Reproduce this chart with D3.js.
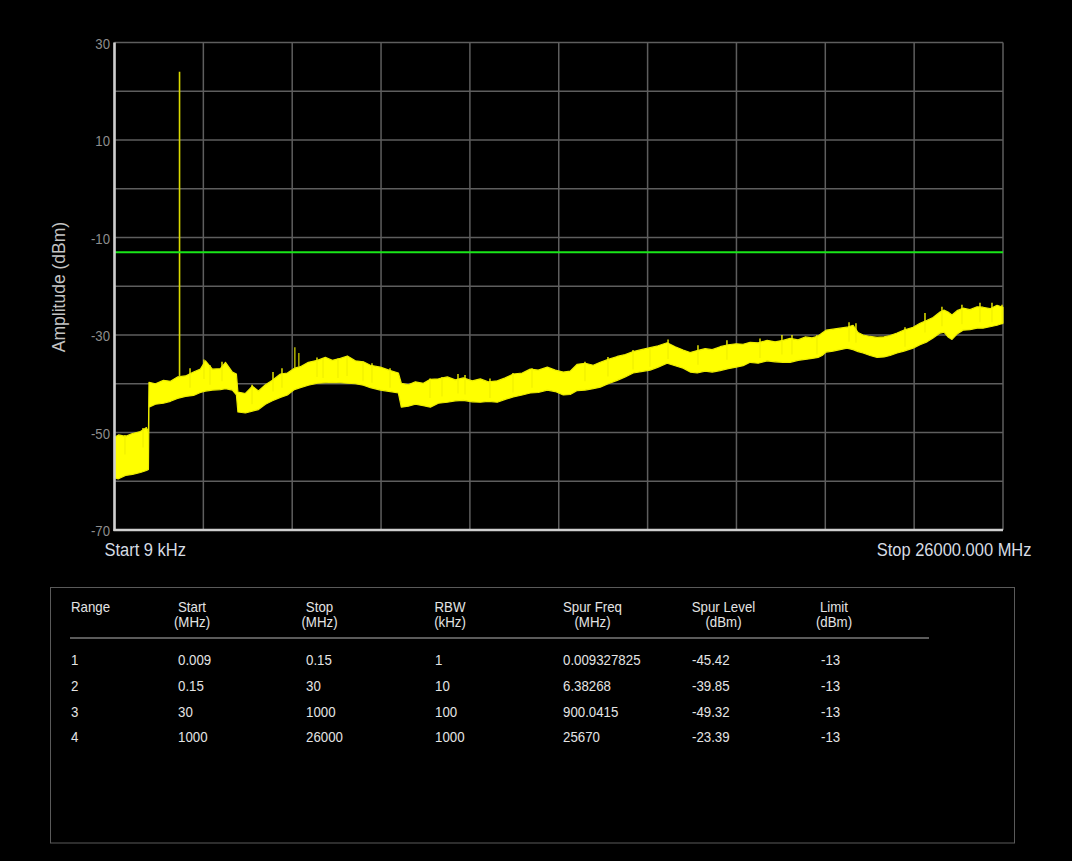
<!DOCTYPE html>
<html><head><meta charset="utf-8">
<script src="https://cdn.jsdelivr.net/npm/d3@7/dist/d3.min.js"></script>
<style>html,body{margin:0;padding:0;background:#000;overflow:hidden}</style>
</head><body>
<script>
// ---------- data ----------
const yTicks = [30, 10, -10, -30, -50, -70];
const yGrid = [30, 20, 10, 0, -10, -20, -30, -40, -50, -60, -70];
const xGridPct = [0, 10, 20, 30, 40, 50, 60, 70, 80, 90, 100];
const limitDbm = -13;
const startLabel = "Start 9 kHz";
const stopLabel = "Stop 26000.000 MHz";
const yTitle = "Amplitude (dBm)";

// sweep position (% of span) with upper / lower envelope of the noisy trace (dBm)
const sweepPct = [0,0.45,1.24,2.02,2.92,3.6,3.82,3.88,4.61,5.51,6.3,7.09,7.99,8.89,9.67,10.24,11.02,11.92,12.49,13.27,13.72,13.89,14.73,15.52,16.2,16.99,17.77,18.67,19.46,20.25,20.92,21.82,22.83,23.73,24.52,25.42,26.21,27.11,28.01,28.8,29.92,31.05,31.95,32.28,33.07,33.86,34.76,35.55,36.45,37.46,38.36,39.26,40.27,41.17,42.07,43.08,43.98,44.88,45.89,46.79,47.69,48.71,49.61,50.51,51.29,52.08,52.98,53.88,54.67,55.57,56.58,57.48,58.38,59.28,60.29,61.19,62.2,63.1,64.0,64.79,65.58,66.48,67.27,68.17,69.07,69.97,70.75,71.54,72.44,73.45,74.35,75.25,76.04,76.94,77.73,78.52,79.19,79.64,80.09,80.88,81.66,82.45,83.13,83.69,84.25,85.04,85.83,86.61,87.29,88.08,88.86,89.88,90.66,91.45,92.13,92.91,93.36,93.81,94.26,94.83,95.5,96.29,97.08,97.75,98.54,99.33,100];
const upperDbm = [-51.0,-50.5,-50.8,-50.2,-49.8,-49.0,-50.0,-39.7,-40.0,-39.3,-39.5,-38.6,-38.4,-37.6,-37.0,-35.3,-37.0,-36.9,-35.6,-37.6,-38.0,-41.7,-42.0,-40.5,-41.5,-40.2,-39.3,-38.0,-37.8,-36.8,-36.5,-35.6,-35.2,-34.6,-35.2,-34.8,-34.3,-35.3,-35.5,-36.2,-36.6,-37.3,-37.8,-39.9,-40.2,-39.6,-39.9,-39.1,-39.0,-38.6,-39.2,-38.8,-39.4,-39.0,-39.6,-39.4,-38.8,-38.0,-37.8,-37.0,-37.2,-36.6,-37.2,-37.6,-37.4,-36.0,-35.8,-36.2,-35.6,-35.0,-34.4,-34.0,-33.4,-33.0,-32.6,-32.2,-31.6,-32.4,-33.1,-33.6,-33.2,-32.8,-33.0,-32.4,-32.0,-31.8,-31.9,-31.5,-31.6,-31.1,-31.4,-31.1,-30.7,-31.0,-30.4,-30.6,-30.2,-29.6,-29.0,-28.8,-28.6,-28.4,-28.0,-29.5,-30.0,-30.3,-30.5,-30.4,-30.1,-29.6,-29.0,-28.4,-27.6,-27.0,-26.4,-25.3,-24.9,-25.3,-25.9,-25.0,-24.5,-24.8,-24.2,-24.3,-24.6,-23.9,-24.3];
const lowerDbm = [-59.3,-59.5,-58.8,-58.6,-58.2,-57.8,-57.6,-44.8,-44.2,-44.0,-43.6,-43.0,-42.6,-42.4,-41.8,-41.5,-41.3,-41.2,-41.0,-41.3,-42.3,-45.8,-46.0,-45.6,-45.3,-44.2,-43.5,-42.8,-42.3,-41.2,-40.8,-40.3,-39.9,-39.8,-39.7,-39.8,-39.9,-40.0,-40.3,-40.8,-41.3,-41.6,-41.9,-44.8,-44.6,-44.2,-44.5,-44.8,-44.0,-43.8,-43.5,-43.4,-43.7,-43.8,-43.6,-43.8,-43.2,-42.7,-42.3,-41.9,-41.8,-41.3,-41.6,-42.3,-42.2,-41.4,-41.3,-41.0,-40.7,-40.0,-39.3,-38.6,-37.8,-37.5,-37.2,-36.6,-35.8,-36.3,-36.8,-37.6,-37.8,-37.4,-37.6,-37.3,-36.9,-36.6,-36.3,-35.6,-35.8,-35.3,-35.5,-35.6,-35.6,-35.2,-35.0,-34.8,-34.6,-34.2,-33.5,-33.3,-33.0,-32.7,-33.0,-33.4,-33.7,-34.2,-34.6,-34.5,-34.2,-33.7,-33.3,-32.7,-32.0,-31.4,-30.6,-29.6,-29.4,-30.4,-30.9,-29.8,-29.0,-28.9,-28.6,-28.6,-28.3,-28.0,-27.6];

// noise peaks poking above the band (sweep %, dBm)
const peakPct = [1.18,3.21,8.50,10.07,10.75,12.10,15.48,17.84,18.85,22.79,23.47,25.15,26.17,27.97,28.98,31.01,35.51,36.86,38.66,39.45,42.26,44.85,46.99,52.95,55.54,58.36,60.27,62.3,65.67,68.93,72.65,75.12,76.25,79.06,82.67,83.45,88.97,91.22,93.13,95.38,97.41,98.76,99.89];
const peakDbm = [-50.5,-49.1,-36.8,-35.0,-36.2,-35.5,-40.2,-37.6,-36.8,-34.6,-34.8,-34.8,-34.4,-35.5,-35.8,-36.8,-38.9,-38.6,-38.0,-38.2,-38.9,-37.8,-36.8,-35.5,-34.5,-33.1,-32.5,-30.9,-32.1,-31.1,-30.7,-30.0,-30.0,-30.0,-27.4,-27.6,-28.4,-25.5,-24.2,-23.8,-23.4,-23.4,-23.8];

// narrow spurs rising above the noise
const spikePct = [7.32, 20.3, 20.75];
const spikeBase = [-38.6, -36.8, -36.5];
const spikeTop = [24.0, -32.5, -33.7];

// table
const headLine1 = ["Range", "Start", "Stop", "RBW", "Spur Freq", "Spur Level", "Limit"];
const headLine2 = ["", "(MHz)", "(MHz)", "(kHz)", "(MHz)", "(dBm)", "(dBm)"];
const rangeIds = ["1", "2", "3", "4"];
const startMHz = ["0.009", "0.15", "30", "1000"];
const stopMHz = ["0.15", "30", "1000", "26000"];
const rbwKHz = ["1", "10", "100", "1000"];
const spurFreq = ["0.009327825", "6.38268", "900.0415", "25670"];
const spurLevel = ["-45.42", "-39.85", "-49.32", "-23.39"];
const limitCol = ["-13", "-13", "-13", "-13"];

// ---------- drawing ----------
const W = 1072, H = 861;
const svg = d3.select("body").append("svg").attr("width", W).attr("height", H)
  .style("display", "block").style("background", "#000");
const FONT = "'Liberation Sans', Arial, sans-serif";

function condense(sel, f) {
  sel.each(function () {
    const l = this.getComputedTextLength();
    d3.select(this).attr("textLength", l * f).attr("lengthAdjust", "spacingAndGlyphs");
  });
}

const L = 114.5, R = 1003, T = 42.5, B = 530;
const x = d3.scaleLinear().domain([0, 100]).range([L, R]);
const y = d3.scaleLinear().domain([-70, 30]).range([B, T]);

// grid
const g = svg.append("g");
g.selectAll("line.h").data(yGrid).join("line")
  .attr("x1", L).attr("x2", R).attr("y1", d => y(d)).attr("y2", d => y(d))
  .attr("stroke", "#5e5e5e").attr("stroke-width", 1.5);
g.selectAll("line.v").data(xGridPct).join("line")
  .attr("x1", d => x(d)).attr("x2", d => x(d)).attr("y1", T).attr("y2", B)
  .attr("stroke", "#5e5e5e").attr("stroke-width", 1.5);

// y axis with tick labels
const yAxis = d3.axisLeft(y).tickValues(yTicks).tickSize(0).tickPadding(4).tickFormat(d => String(d));
const ya = svg.append("g").attr("transform", `translate(${L - 0.5},0)`).call(yAxis);
ya.select(".domain").remove();
ya.selectAll("text").attr("fill", "#8e8e8e").attr("font-family", FONT).attr("font-size", 15.5)
  .attr("dy", "0.36em").call(condense, 0.85);

// trace band
const pts = sweepPct.map((p, i) => ({ p, hi: upperDbm[i], lo: lowerDbm[i] }));
const area = d3.area().x(d => x(d.p)).y0(d => y(d.lo)).y1(d => y(d.hi));
svg.append("path").datum(pts).attr("d", area)
  .attr("fill", "#ffff00").attr("stroke", "#eded00").attr("stroke-width", 1.2)
  .attr("stroke-linejoin", "round");

// noise peaks
svg.selectAll("line.peak").data(peakPct).join("line")
  .attr("x1", d => x(d)).attr("x2", d => x(d))
  .attr("y1", (d, i) => y(peakDbm[i])).attr("y2", (d, i) => y(peakDbm[i] - 4))
  .attr("stroke", "#f2f200").attr("stroke-width", 1.4);

// spurs
svg.selectAll("line.spike").data(spikePct).join("line")
  .attr("x1", d => x(d)).attr("x2", d => x(d))
  .attr("y1", (d, i) => y(spikeBase[i])).attr("y2", (d, i) => y(spikeTop[i]))
  .attr("stroke", "#dada00").attr("stroke-width", (d, i) => i === 0 ? 1.6 : 1.2);

// limit line
svg.append("line").attr("x1", L).attr("x2", R).attr("y1", y(limitDbm)).attr("y2", y(limitDbm))
  .attr("stroke", "#19e619").attr("stroke-width", 2);

// axis frame (left & bottom)
svg.append("line").attr("x1", L).attr("x2", L).attr("y1", T).attr("y2", B + 1)
  .attr("stroke", "#cfcfcf").attr("stroke-width", 2.6);
svg.append("line").attr("x1", L - 1).attr("x2", R).attr("y1", B).attr("y2", B)
  .attr("stroke", "#cfcfcf").attr("stroke-width", 2.4);

// start / stop labels
svg.append("text").attr("x", 104.5).attr("y", 556).text(startLabel)
  .attr("fill", "#d6dce4").attr("font-family", FONT).attr("font-size", 18).call(condense, 0.915);
svg.append("text").attr("x", 1031.5).attr("y", 556).attr("text-anchor", "end").text(stopLabel)
  .attr("fill", "#d6dce4").attr("font-family", FONT).attr("font-size", 18).call(condense, 0.915);

// y title
svg.append("text").attr("transform", "translate(64.5,287) rotate(-90)")
  .attr("text-anchor", "middle").text(yTitle)
  .attr("fill", "#c4c4c4").attr("font-family", FONT).attr("font-size", 17.5);

// ---------- table ----------
svg.append("rect").attr("x", 50.5).attr("y", 587.5).attr("width", 964).attr("height", 255.5)
  .attr("fill", "none").attr("stroke", "#5a5a5a").attr("stroke-width", 1);
svg.append("line").attr("x1", 70).attr("x2", 929).attr("y1", 638).attr("y2", 638)
  .attr("stroke", "#7a7a7a").attr("stroke-width", 1.5);

const colLeft = [71, 178, 306, 435, 563, 692, 821];
const headCenter = [null, 192, 319.5, 450, 592.5, 723.5, 834];
const TF = 15, TC = 0.885, TCOL = "#e4e4e4";
const th = svg.append("g").attr("font-family", FONT).attr("font-size", TF).attr("fill", TCOL);
headLine1.forEach((h, i) => {
  const t = th.append("text").attr("y", 612).text(h);
  if (i === 0) t.attr("x", colLeft[0]); else t.attr("x", headCenter[i]).attr("text-anchor", "middle");
  t.call(condense, TC);
  if (headLine2[i]) {
    th.append("text").attr("y", 627).attr("x", headCenter[i]).attr("text-anchor", "middle")
      .text(headLine2[i]).call(condense, TC);
  }
});
const columns = [rangeIds, startMHz, stopMHz, rbwKHz, spurFreq, spurLevel, limitCol];
const rowBase = [665, 691, 716.5, 742];
columns.forEach((col, ci) => {
  th.selectAll(null).data(col).join("text")
    .attr("x", colLeft[ci]).attr("y", (d, ri) => rowBase[ri]).text(d => d)
    .call(condense, TC);
});
</script>
</body></html>
